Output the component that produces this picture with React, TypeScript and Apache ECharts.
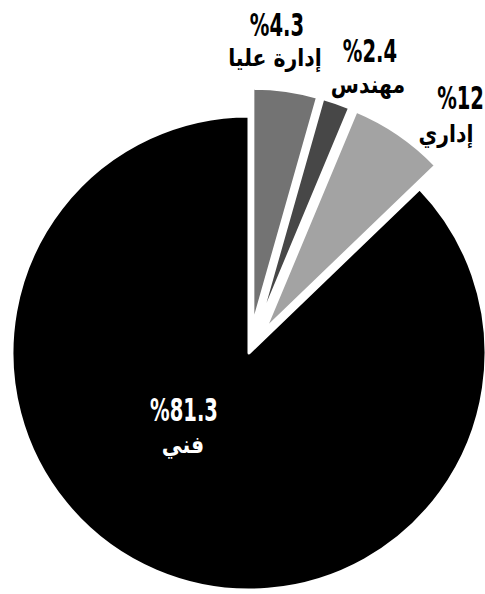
import React, { useEffect, useRef } from "react";
import * as echarts from "echarts";

// categories clockwise from 12 o'clock
const categories = ["إدارة عليا", "مهندس", "إداري", "فني"];
const sliceShares = [4.4, 1.9, 6.5, 87.2];
// printed percentage labels
const percentLabels = ["%4.3", "%2.4", "%12", "%81.3"];
const sliceColors = ["#737373", "#474747", "#a3a3a3", "#000000"];
const exploded = [true, true, true, false];

// label layout: [pctX, pctY, pctAlign, nameX, nameY, colour]
const labelLayout: [number, number, string, number, number, string][] = [
  [277, 25, "center", 275, 57, "#000"],
  [370, 51, "center", 368, 84, "#000"],
  [484, 98, "right", 446, 133, "#000"],
  [184, 410, "center", 183, 444, "#fff"],
];

export default function App() {
  const ref = useRef<HTMLDivElement>(null);
  useEffect(() => {
    if (!ref.current) return;
    const chart = echarts.init(ref.current, null, { renderer: "svg" });
    const graphics: any[] = [];
    percentLabels.forEach((p, i) => {
      const [px, py, pa, nx, ny, col] = labelLayout[i];
      graphics.push({
        type: "text",
        x: px,
        y: py,
        z: 100,
        scaleX: 0.68,
        style: {
          text: p,
          fontFamily: "DejaVu Sans Condensed, DejaVu Sans",
          fontWeight: "bold",
          fontSize: 32,
          fill: col,
          textAlign: pa,
          textVerticalAlign: "middle",
        },
      });
      graphics.push({
        type: "text",
        x: nx,
        y: ny,
        z: 100,
        scaleX: 0.85,
        style: {
          text: categories[i],
          fontFamily: "DejaVu Sans",
          fontWeight: "bold",
          fontSize: 24,
          fill: col,
          textAlign: "center",
          textVerticalAlign: "middle",
        },
      });
    });
    chart.setOption({
      animation: false,
      backgroundColor: "#ffffff",
      graphic: { elements: graphics },
      series: [
        {
          type: "pie",
          z: 1,
          center: [249, 353],
          radius: 237,
          startAngle: 90,
          clockwise: true,
          selectedMode: "multiple",
          selectedOffset: 28,
          silent: true,
          label: { show: false },
          labelLine: { show: false },
          emphasis: { disabled: true },
          itemStyle: { borderColor: "#ffffff", borderWidth: 3 },
          data: categories.map((c, i) => ({
            name: c,
            value: sliceShares[i],
            selected: exploded[i],
            itemStyle: { color: sliceColors[i] },
          })),
        },
      ],
    });
    return () => chart.dispose();
  }, []);
  return (
    <div
      ref={ref}
      style={{ position: "fixed", left: 0, top: 0, width: 485, height: 594 }}
    />
  );
}
